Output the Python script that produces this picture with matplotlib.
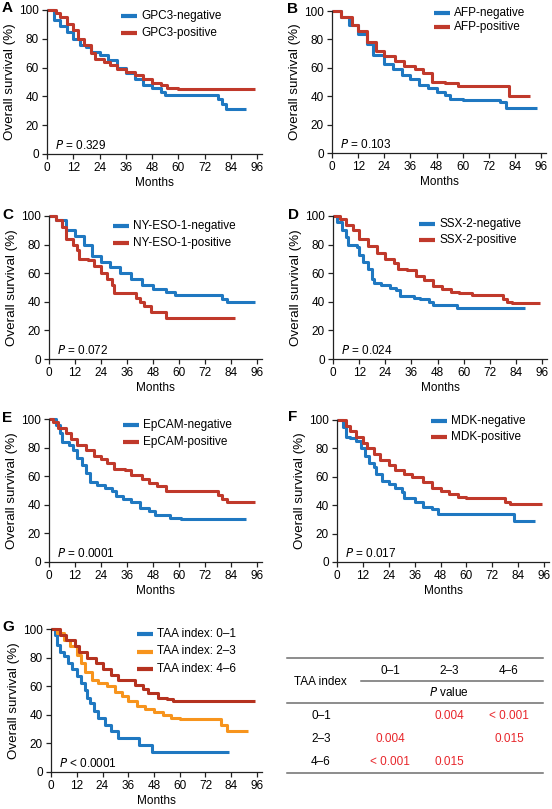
import matplotlib
matplotlib.use("Agg")
import matplotlib.pyplot as plt
from matplotlib.lines import Line2D

plt.rcParams['font.family'] = ['Liberation Sans', 'DejaVu Sans']
plt.rcParams['font.size'] = 8.5

BLUE = '#1f78c1'
RED = '#c0392b'
ORANGE = '#f7941d'
DARKRED = '#b5321f'
PRED = '#e8262b'

# ---------------- data (months, survival %) ----------------
a_neg_t = [0, 3, 6, 9, 12, 15, 18, 20, 24, 28, 32, 36, 40, 44, 48, 52, 54, 76, 78, 80, 82, 91]
a_neg_s = [100, 93, 89, 85, 80, 76, 74, 71, 69, 65, 60, 56, 52, 48, 46, 43, 41, 41, 38, 35, 31, 31]
a_pos_t = [0, 4, 6, 9, 12, 14, 17, 20, 22, 26, 29, 32, 36, 40, 44, 48, 52, 55, 60, 95]
a_pos_s = [100, 98, 95, 90, 86, 80, 76, 70, 66, 64, 62, 59, 57, 55, 52, 49, 48, 46, 45, 45]

b_neg_t = [0, 4, 8, 12, 16, 19, 24, 28, 32, 36, 40, 44, 48, 52, 54, 60, 77, 80, 94]
b_neg_s = [100, 96, 90, 84, 77, 69, 63, 59, 55, 52, 48, 46, 43, 41, 38, 37, 36, 32, 32]
b_pos_t = [0, 4, 9, 12, 16, 20, 24, 29, 33, 38, 42, 46, 52, 58, 81.5, 91]
b_pos_s = [100, 96, 90, 86, 78, 72, 68, 65, 61, 59, 56, 50, 49, 47, 40, 40]

c_neg_t = [0, 3, 8, 12, 16, 20, 24, 28, 33, 38, 43, 48, 54, 58, 76, 80, 82, 95]
c_neg_s = [100, 97, 90, 86, 80, 72, 68, 64, 60, 56, 52, 49, 47, 45, 45, 42, 40, 40]
c_pos_t = [0, 3, 6, 8, 11, 13, 14, 18, 21, 24, 27, 29, 30, 39, 40, 42, 44, 47, 54, 86]
c_pos_s = [100, 97, 92, 84, 80, 76, 70, 69, 65, 60, 56, 52, 46, 46, 43, 40, 37, 33, 29, 29]

d_neg_t = [0, 2, 4, 6, 7, 11, 12, 14, 16, 18, 19, 22, 26, 29, 31, 37, 40, 44, 46, 57, 88]
d_neg_s = [100, 96, 90, 85, 80, 78, 73, 68, 63, 56, 53, 52, 50, 48, 44, 43, 42, 40, 38, 36, 36]
d_pos_t = [0, 3, 6, 9, 12, 16, 20, 24, 28, 30, 34, 38, 42, 46, 50, 54, 58, 64, 76, 78, 80, 82, 95]
d_pos_s = [100, 98, 94, 90, 84, 79, 74, 70, 67, 63, 62, 58, 55, 51, 49, 47, 46, 45, 45, 42, 40, 39, 39]

e_neg_t = [0, 3, 5, 6, 9, 11, 13, 15, 17, 19, 22, 26, 29, 31, 34, 38, 42, 46, 49, 53, 56, 61, 91]
e_neg_s = [100, 96, 90, 84, 82, 78, 73, 68, 62, 56, 54, 52, 50, 46, 44, 42, 38, 36, 33, 33, 31, 30, 30]
e_pos_t = [0, 2, 4, 8, 10, 13, 17, 21, 24, 27, 30, 35, 38, 43, 46, 50, 54, 76, 78, 80, 82, 95]
e_pos_s = [100, 98, 94, 90, 86, 82, 78, 74, 72, 69, 65, 64, 61, 58, 55, 53, 50, 50, 47, 44, 42, 42]

f_neg_t = [0, 3, 4, 6, 9, 11, 13, 15, 17, 18, 21, 24, 27, 30, 31, 36, 40, 44, 47, 82, 92]
f_neg_s = [100, 95, 88, 87, 85, 80, 75, 70, 67, 62, 57, 55, 52, 49, 45, 42, 39, 37, 34, 29, 29]
f_pos_t = [0, 4, 6, 9, 12, 14, 17, 20, 24, 27, 31, 35, 40, 44, 48, 52, 56, 60, 77, 78, 80, 95]
f_pos_s = [100, 96, 92, 88, 84, 80, 76, 72, 68, 65, 62, 60, 56, 52, 50, 48, 46, 45, 45, 42, 41, 41]

g_lo_t = [0, 2, 3, 4, 6, 8, 10, 12, 14, 16, 17, 18, 20, 22, 25, 28, 31, 41, 47, 83]
g_lo_s = [100, 96, 89, 84, 81, 76, 72, 67, 62, 57, 52, 48, 43, 38, 33, 29, 24, 19, 14, 14]
g_mid_t = [0, 3, 6, 9, 12, 14, 16, 19, 22, 26, 30, 33, 36, 40, 44, 48, 52, 56, 60, 78, 79, 82, 92]
g_mid_s = [100, 97, 92, 88, 82, 76, 70, 64, 62, 60, 56, 53, 50, 46, 44, 42, 40, 38, 37, 37, 33, 29, 29]
g_hi_t = [0, 4, 7, 11, 13, 17, 21, 24, 28, 31, 35, 39, 43, 45, 50, 54, 57, 95]
g_hi_s = [100, 96, 92, 88, 84, 80, 76, 72, 68, 64, 64, 61, 58, 55, 52, 51, 50, 50]

panel_letters = ['A', 'B', 'C', 'D', 'E', 'F', 'G']
p_texts = ['= 0.329', '= 0.103', '= 0.072', '= 0.024', '= 0.0001', '= 0.017', '< 0.0001']
x_ticks = [0, 12, 24, 36, 48, 60, 72, 84, 96]
y_ticks = [0, 20, 40, 60, 80, 100]

panels = [
    [(a_neg_t, a_neg_s, 'GPC3-negative', BLUE), (a_pos_t, a_pos_s, 'GPC3-positive', RED)],
    [(b_neg_t, b_neg_s, 'AFP-negative', BLUE), (b_pos_t, b_pos_s, 'AFP-positive', RED)],
    [(c_neg_t, c_neg_s, 'NY-ESO-1-negative', BLUE), (c_pos_t, c_pos_s, 'NY-ESO-1-positive', RED)],
    [(d_neg_t, d_neg_s, 'SSX-2-negative', BLUE), (d_pos_t, d_pos_s, 'SSX-2-positive', RED)],
    [(e_neg_t, e_neg_s, 'EpCAM-negative', BLUE), (e_pos_t, e_pos_s, 'EpCAM-positive', RED)],
    [(f_neg_t, f_neg_s, 'MDK-negative', BLUE), (f_pos_t, f_pos_s, 'MDK-positive', RED)],
    [(g_lo_t, g_lo_s, 'TAA index: 0\u20131', BLUE), (g_mid_t, g_mid_s, 'TAA index: 2\u20133', ORANGE),
     (g_hi_t, g_hi_s, 'TAA index: 4\u20136', DARKRED)],
]

# table data
table_cols = ['0\u20131', '2\u20133', '4\u20136']
table_rows = ['0\u20131', '2\u20133', '4\u20136']
table_vals = [['', '0.004', '< 0.001'],
              ['0.004', '', '0.015'],
              ['< 0.001', '0.015', '']]

# ---------------- layout (pixels) ----------------
W, H = 552, 809
fig = plt.figure(figsize=(W / 100, H / 100), dpi=100)

# (x of month 0, x of month 96, y of 100%, y of 0%)
rects = [(47, 257, 10, 154), (332, 541, 11, 153),
         (49, 257, 216, 359), (333, 542, 216, 359),
         (49, 257, 419, 562), (337, 544, 420, 562),
         (51, 257, 629, 772)]
letter_pos = [(2, 1), (287, 2), (2, 208), (288, 208), (2, 411), (288, 410), (2, 620)]
legend_pos = [(121, 16, 17.5), (434, 13, 14), (113, 226, 17), (419, 224, 16),
              (123, 425, 17), (431, 421, 16), (137, 634, 17.5)]

for i, (r, series) in enumerate(zip(rects, panels)):
    x0, x96, y100, y0 = r
    pxm = (x96 - x0) / 96.0
    width = pxm * 98.5
    hgt = y0 - y100
    ax = fig.add_axes([x0 / W, (H - y0) / H, width / W, hgt / H])
    for t, s, lab, col in series:
        ax.step(t, s, where='post', color=col, lw=2.2, clip_on=False, solid_capstyle='butt')
    ax.set_xlim(0, 98.5)
    ax.set_ylim(0, 100)
    ax.set_xticks(x_ticks)
    ax.set_yticks(y_ticks)
    for sp in ['top', 'right']:
        ax.spines[sp].set_visible(False)
    for sp in ['left', 'bottom']:
        ax.spines[sp].set_linewidth(0.9)
        ax.spines[sp].set_color('#222222')
    ax.tick_params(length=3.5, width=0.9, color='#222222', labelsize=8.5, pad=2.5)
    ax.set_xlabel('Months', fontsize=8.5, labelpad=2)
    ax.set_ylabel('Overall survival (%)', fontsize=9.6, labelpad=2)
    ax.text(8 / width, 8.5 / hgt, '$\\it{P}$ ' + p_texts[i],
            transform=ax.transAxes, fontsize=8.5, va='center', ha='left')
    # legend
    lx, ly, lsp = legend_pos[i]
    for k, (t, s, lab, col) in enumerate(series):
        yy = ly + k * lsp
        fy = (y0 - yy) / hgt
        fx = (lx - x0) / width
        ax.add_line(Line2D([fx, fx + 16 / width], [fy, fy], transform=ax.transAxes,
                           color=col, lw=3, clip_on=False, solid_capstyle='butt'))
        ax.text(fx + 20 / width, fy, lab, transform=ax.transAxes, fontsize=8.5,
                va='center', ha='left')
    lpx, lpy = letter_pos[i]
    fig.text(lpx / W, 1 - lpy / H, panel_letters[i], fontsize=11, fontweight='bold',
             va='top', ha='left')

# ---------------- table ----------------
tax = fig.add_axes([0, 0, 1, 1])
tax.set_xlim(0, W)
tax.set_ylim(H, 0)
tax.axis('off')
lc = '#6e6e6e'
tax.plot([287, 543], [658, 658], color=lc, lw=1.1)
tax.plot([361, 543], [681, 681], color=lc, lw=1.1)
tax.plot([287, 543], [703, 703], color=lc, lw=1.1)
tax.plot([287, 543], [773, 773], color=lc, lw=1.1)
col_x = [390, 449, 509]
row_y = [716, 739, 762]
tax.text(320, 682, 'TAA index', fontsize=8.5, ha='center', va='center')
for cx, c in zip(col_x, table_cols):
    tax.text(cx, 671, c, fontsize=8.5, ha='center', va='center')
tax.text(449, 693, '$\\it{P}$ value', fontsize=8.5, ha='center', va='center')
for ry, rl, vals in zip(row_y, table_rows, table_vals):
    tax.text(321, ry, rl, fontsize=8.5, ha='center', va='center')
    for cx, v in zip(col_x, vals):
        if v:
            tax.text(cx, ry, v, fontsize=8.5, ha='center', va='center', color=PRED)

fig.savefig('out.png', dpi=100)
